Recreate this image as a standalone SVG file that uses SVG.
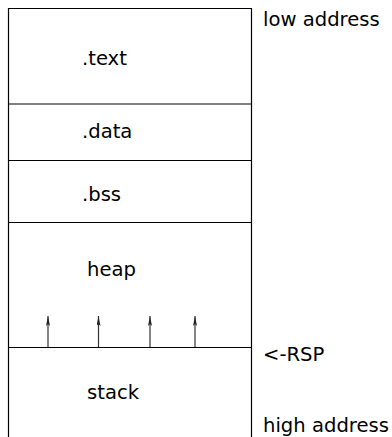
<svg xmlns="http://www.w3.org/2000/svg" width="392" height="437" viewBox="0 0 392 437">
<style>
.box{fill:none;stroke:#000;stroke-width:1.2}
.sep{stroke:#000;stroke-width:1.2}
.lbl{font-family:"DejaVu Sans",sans-serif;font-size:19.6px;fill:#000}
.arr{stroke:#333;stroke-width:1.2;fill:none;marker-end:url(#ah)}
</style>
<defs>
<marker id="ah" viewBox="0 0 10 4" refX="10" refY="2" markerWidth="10" markerHeight="4" markerUnits="userSpaceOnUse" orient="auto">
<path d="M0,0 L10,2 L0,4 L2,2 Z" fill="#222"/>
</marker>
</defs>
<rect width="392" height="437" fill="#fff"/>
<g id="memory">
<path class="box" d="M8.5,437 V8.5 H251.5 V437"/>
</g>
<g id="text"><line class="sep" x1="8.5" y1="104" x2="251.5" y2="104"/><text class="lbl" x="82" y="65">.text</text></g>
<g id="data"><line class="sep" x1="8.5" y1="160.5" x2="251.5" y2="160.5"/><text class="lbl" x="82" y="138">.data</text></g>
<g id="bss"><line class="sep" x1="8.5" y1="222.5" x2="251.5" y2="222.5"/><text class="lbl" x="82" y="201">.bss</text></g>
<g id="heap"><text class="lbl" x="87" y="276">heap</text></g>
<g id="stack"><line class="sep" x1="8.5" y1="347.5" x2="251.5" y2="347.5"/><text class="lbl" x="87" y="399">stack</text></g>
<g id="labels">
<text class="lbl" x="263" y="26">low address</text>
<text class="lbl" x="263" y="361">&lt;-RSP</text>
<text class="lbl" x="263" y="432">high address</text>
</g>
<g id="connectors">
<line class="arr" x1="48" y1="347" x2="48" y2="316"/>
<line class="arr" x1="98.5" y1="347" x2="98.5" y2="316"/>
<line class="arr" x1="150" y1="347" x2="150" y2="316"/>
<line class="arr" x1="195" y1="347" x2="195" y2="316"/>
</g>
</svg>
